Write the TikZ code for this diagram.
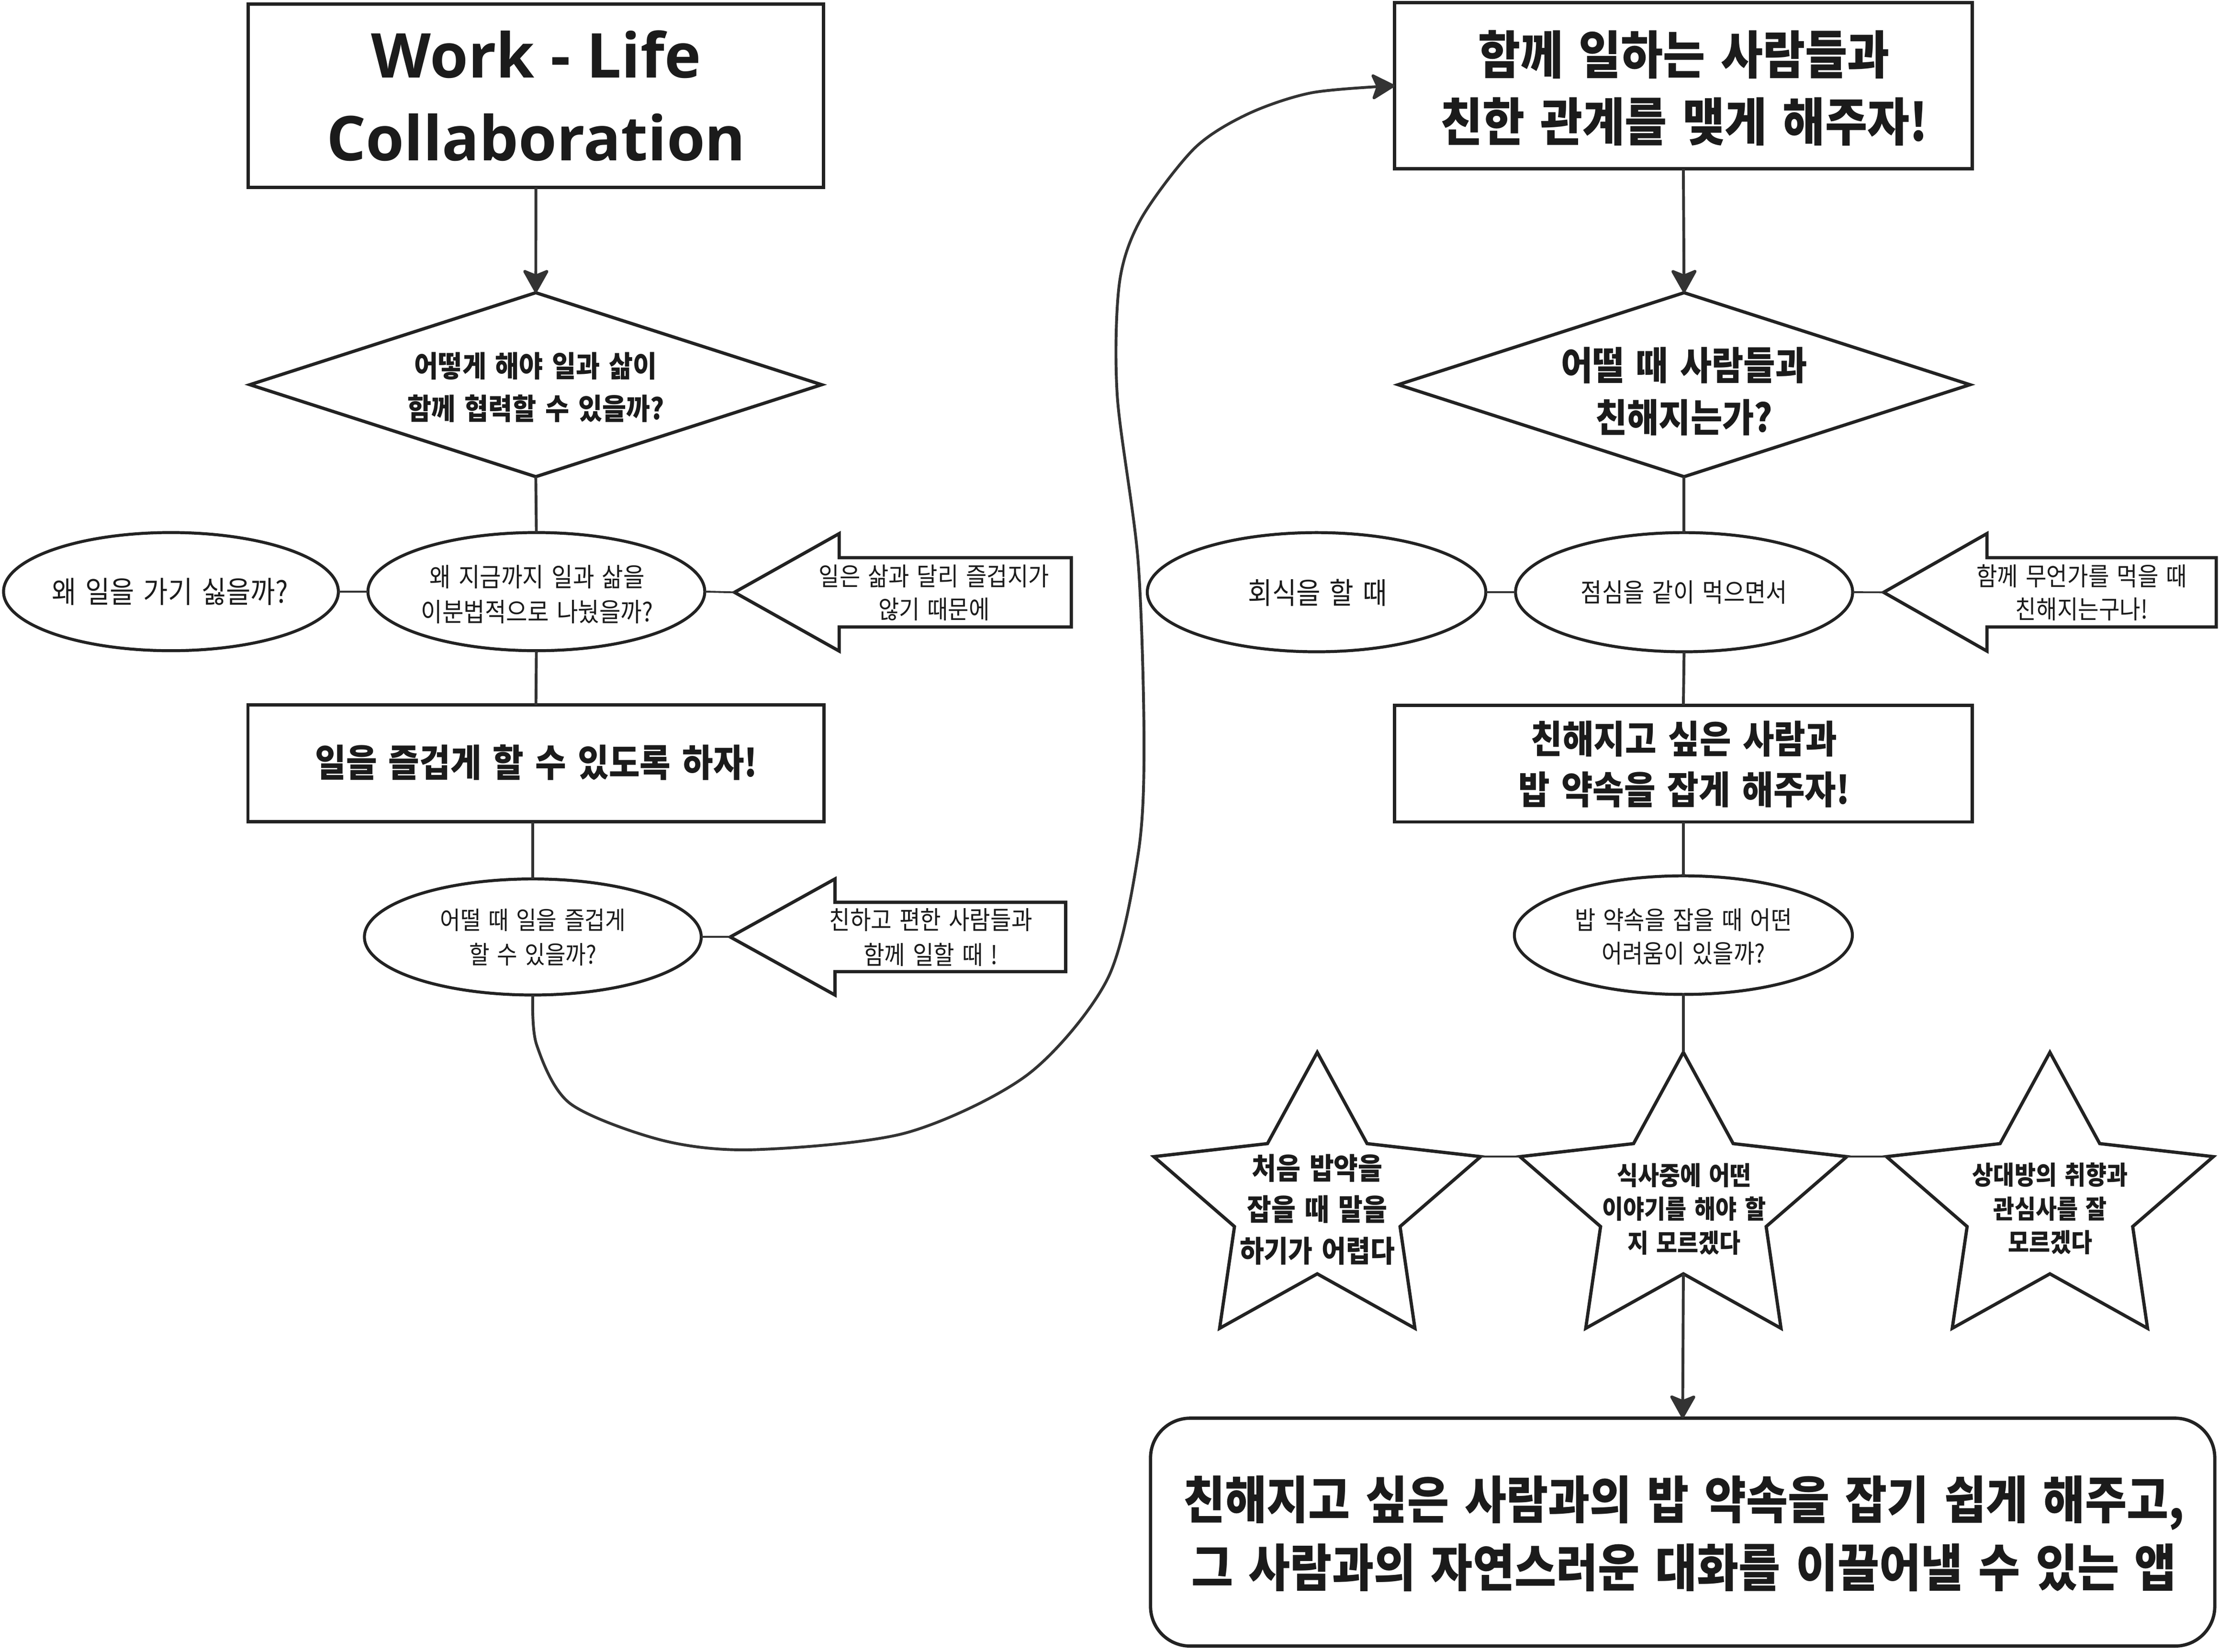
\documentclass[tikz,border=0pt]{standalone}
\usepackage{fontspec}
\usetikzlibrary{shapes.geometric,arrows.meta}
\newfontfamily\kr{Noto Sans CJK KR}[FakeStretch=0.89, WordSpace=1.5]
\newfontfamily\titlef{Open Sans}
\newcommand\fs[2]{\fontsize{#1pt}{#2pt}\selectfont}
\lineskiplimit=-1000pt
\lineskip=0pt
\definecolor{strokec}{HTML}{222222}
\definecolor{linec}{HTML}{333333}
\definecolor{textc}{HTML}{1B1B1B}
\tikzset{
  shp/.style={draw=strokec, line width=2.3pt, inner sep=0pt, outer sep=0pt},
  boxr/.style={shp, rectangle},
  ell/.style={shp, ellipse, line width=2.1pt},
  dia/.style={shp, diamond, aspect=3.1},
  conn/.style={draw=linec, line width=2pt},
  link/.style={draw=linec, line width=1.3pt},
  arr/.style={conn, -{Stealth[length=18pt,width=20pt,inset=4pt,round]}},
  t/.style={text=textc, align=center, inner sep=0pt},
}
\newcommand\mkstar[2]{%
  \begin{scope}[shift={(#2,0)}]
    \draw[shp] (0,743.5) -- (35.2,808) -- (115.5,817.2) -- (58.5,866.6)
      -- (69,938.5) -- (0,900) -- (-69,938.5) -- (-58.5,866.6)
      -- (-115.5,817.2) -- (-35.2,808) -- cycle;
    \coordinate (#1-top) at (0,743.5);
    \coordinate (#1-left) at (-115.5,817.2);
    \coordinate (#1-right) at (115.5,817.2);
    \coordinate (#1-bot) at (0,900);
  \end{scope}}
\begin{document}
\begin{tikzpicture}[x=1pt,y=-1pt]
\useasboundingbox (0,0) rectangle (1568,1167);
% ---------------- left column
\node[boxr, minimum width=406.5pt, minimum height=129.5pt] (title) at (378.7,67.6) {};
\node[t, font=\titlef\bfseries\fs{43.7}{58.5}] (titlet) at (378.9,67.7) {Work - Life\\Collaboration};

\node[dia, minimum width=404pt, minimum height=130pt] (d1) at (378.6,271.8) {};
\node[t, font=\kr\bfseries\fs{20.7}{30.2}] (d1t) at (378.6,273.7) {어떻게 해야 일과 삶이\\함께 협력할 수 있을까?};

\node[ell, minimum width=236.6pt, minimum height=83.5pt] (l1) at (120.8,418) {};
\node[t, font=\kr\fs{21.2}{24}] (l1t) at (120.1,418) {왜 일을 가기 싫을까?};

\node[ell, minimum width=238pt, minimum height=83.5pt] (c1) at (379,418) {};
\node[t, font=\kr\fs{18.4}{24.6}] (c1t) at (379.5,419.9) {왜 지금까지 일과 삶을\\이분법적으로 나눴을까?};

\coordinate (a1tip) at (519,418.5);
\draw[shp] (a1tip) -- (593,377) -- (593,394) -- (757,394) -- (757,443) -- (593,443) -- (593,460) -- cycle;
\node[t, font=\kr\fs{17.9}{23.3}] (a1t) at (660,418.7) {일은 삶과 달리 즐겁지가\\않기 때문에};

\node[boxr, minimum width=407pt, minimum height=82.5pt] (b1) at (378.7,539.4) {};
\node[t, font=\kr\bfseries\fs{26.7}{30}] (b1t) at (379,538.6) {일을 즐겁게 할 수 있도록 하자!};

\node[ell, minimum width=238pt, minimum height=82pt] (e2) at (376.5,662) {};
\node[t, font=\kr\fs{17.6}{24.5}] (e2t) at (376.5,662.2) {어떨 때 일을 즐겁게\\할 수 있을까?};

\coordinate (a2tip) at (516,662);
\draw[shp] (a2tip) -- (590,621) -- (590,637.5) -- (753,637.5) -- (753,686.5) -- (590,686.5) -- (590,703) -- cycle;
\node[t, font=\kr\fs{18}{24.5}] (a2t) at (657.7,662.2) {친하고 편한 사람들과\\함께 일할 때 !};

% ---------------- right column
\node[boxr, minimum width=408pt, minimum height=117.5pt] (b2) at (1189.5,60.6) {};
\node[t, font=\kr\bfseries\fs{36.4}{47.2}] (b2t) at (1190,62.3) {함께 일하는 사람들과\\친한 관계를 맺게 해주자!};

\node[dia, minimum width=404pt, minimum height=130pt] (d2) at (1190,271.8) {};
\node[t, font=\kr\bfseries\fs{27.4}{37}] (d2t) at (1190,276.5) {어떨 때 사람들과\\친해지는가?};

\node[ell, minimum width=239.2pt, minimum height=84.2pt] (l2) at (930.3,418.4) {};
\node[t, font=\kr\fs{20.9}{24}] (l2t) at (931,418.6) {회식을 할 때};

\node[ell, minimum width=238.2pt, minimum height=84.2pt] (c2) at (1190,418.4) {};
\node[t, font=\kr\fs{18.3}{24}] (c2t) at (1190,418.6) {점심을 같이 먹으면서};

\coordinate (a3tip) at (1331,418.5);
\draw[shp] (a3tip) -- (1404,377) -- (1404,394) -- (1566,394) -- (1566,443) -- (1404,443) -- (1404,460) -- cycle;
\node[t, font=\kr\fs{18}{23.3}] (a3t) at (1471,418.7) {함께 무언가를 먹을 때\\친해지는구나!};

\node[boxr, minimum width=408pt, minimum height=82.5pt] (b3) at (1189.5,539.5) {};
\node[t, font=\kr\bfseries\fs{27.1}{35.7}] (b3t) at (1190,539.9) {친해지고 싶은 사람과\\밥 약속을 잡게 해주자!};

\node[ell, minimum width=238.8pt, minimum height=83.8pt] (e3) at (1189.5,660.7) {};
\node[t, font=\kr\fs{17.9}{23.7}] (e3t) at (1189.5,661.7) {밥 약속을 잡을 때 어떤\\어려움이 있을까?};

\mkstar{s1}{930.8}
\mkstar{s2}{1189.5}
\mkstar{s3}{1448.5}
\node[t, font=\kr\bfseries\fs{21}{29.2}] (s1t) at (930.8,854.6) {처음 밥약을\\잡을 때 말을\\하기가 어렵다};
\node[t, font=\kr\bfseries\fs{18.2}{23.8}] (s2t) at (1190,854.2) {식사중에 어떤\\이야기를 해야 할\\지 모르겠다};
\node[t, font=\kr\bfseries\fs{18.2}{23.8}] (s3t) at (1448.7,854) {상대방의 취향과\\관심사를 잘\\모르겠다};

\node[shp, rectangle, rounded corners=28pt, minimum width=752pt, minimum height=161pt] (final) at (1189,1082.5) {};
\node[t, font=\kr\bfseries\fs{36}{48}] (finalt) at (1189.9,1083.7) {친해지고 싶은 사람과의 밥 약속을 잡기 쉽게 해주고,\\그 사람과의 자연스러운 대화를 이끌어낼 수 있는 앱};

% ---------------- connectors
\draw[arr] (title.south) -- (d1.north);
\draw[conn] (d1.south) -- (c1.north);
\draw[link] (l1.east) -- (c1.west);
\draw[link] (c1.east) -- (a1tip);
\draw[conn] (c1.south) -- (b1.north);
\draw[conn] (b1.south -| e2.north) -- (e2.north);
\draw[link] (e2.east) -- (a2tip);
\draw[arr] plot[smooth, tension=0.5] coordinates {(e2.south) (379.2,738.2) (402.9,779.7) (467.7,805.6) (532.4,812.3) (640.2,800.4) (726.5,759) (782.6,691.6) (804.2,603.6) (808.4,525.9) (804.2,396.4) (789.5,280) (791,200) (806.3,154.6) (844,104.8) (881.8,80.5) (927,65.5) (b2.west)};

\draw[arr] (b2.south) -- (d2.north);
\draw[conn] (d2.south) -- (c2.north);
\draw[link] (l2.east) -- (c2.west);
\draw[link] (c2.east) -- (a3tip);
\draw[conn] (c2.south) -- (b3.north);
\draw[conn] (b3.south) -- (e3.north);
\draw[conn] (e3.south) -- (s2-top);
\draw[link] (s1-right) -- (s2-left);
\draw[link] (s2-right) -- (s3-left);
\draw[arr] (s2-bot) -- (final.north);
\end{tikzpicture}
\end{document}
